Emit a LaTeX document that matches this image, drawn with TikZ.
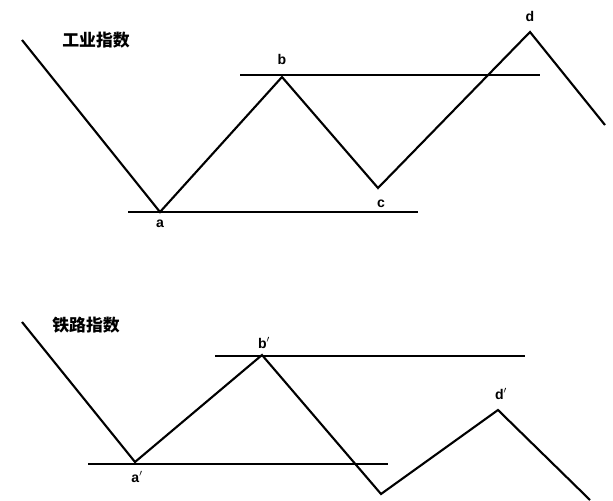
\documentclass[tikz,border=0pt]{standalone}
\usepackage{fontspec}
\setmainfont{Liberation Sans}
\newfontfamily\cjk{Noto Sans CJK SC}
\begin{document}
\begin{tikzpicture}
[	x=0.03cm,y=-0.03cm,
	wave/.style={line width=1.8pt,line join=miter},
	lvl/.style={line width=1.1pt},
	lbl/.style={font=\bfseries\large,inner sep=1pt},
	ttl/.style={font=\cjk\bfseries\Large,inner sep=1pt}
]
\useasboundingbox (0,0) rectangle (613,500);

% top chart
\coordinate (s1) at (22,40);
\coordinate (a) at (160,212);
\coordinate (b) at (282,77);
\coordinate (c) at (378,188);
\coordinate (d) at (530,32);
\coordinate (e1) at (605,125);
\draw[wave] (s1) -- (a) -- (b) -- (c) -- (d) -- (e1);
\coordinate (h1l) at (240,75);
\coordinate (h1r) at (540,75);
\coordinate (h2l) at (128,212);
\coordinate (h2r) at (418,212);
\draw[lvl] (h1l) -- (h1r);
\draw[lvl] (h2l) -- (h2r);

\node[ttl] (t1) at (96,40) {工业指数};
\node[lbl] (la) at (160,224) {a};
\node[lbl] (lb) at (282,59) {b};
\node[lbl] (lc) at (381,204) {c};
\node[lbl] (ld) at (530,16) {d};

% bottom chart
\coordinate (s2) at (22,322);
\coordinate (a2) at (135,462);
\coordinate (b2) at (262,355);
\coordinate (c2) at (381,494);
\coordinate (d2) at (498,410);
\coordinate (e2) at (590,500);
\draw[wave] (s2) -- (a2) -- (b2) -- (c2) -- (d2) -- (e2);
\coordinate (h3l) at (215,356);
\coordinate (h3r) at (525,356);
\coordinate (h4l) at (88,464);
\coordinate (h4r) at (388,464);
\draw[lvl] (h3l) -- (h3r);
\draw[lvl] (h4l) -- (h4r);

\node[ttl] (t2) at (86,325) {铁路指数};
\node[lbl] (la2) at (137,477) {a$'$};
\node[lbl] (lb2) at (264,343) {b$'$};
\node[lbl] (ld2) at (501,394) {d$'$};

\end{tikzpicture}
\end{document}
